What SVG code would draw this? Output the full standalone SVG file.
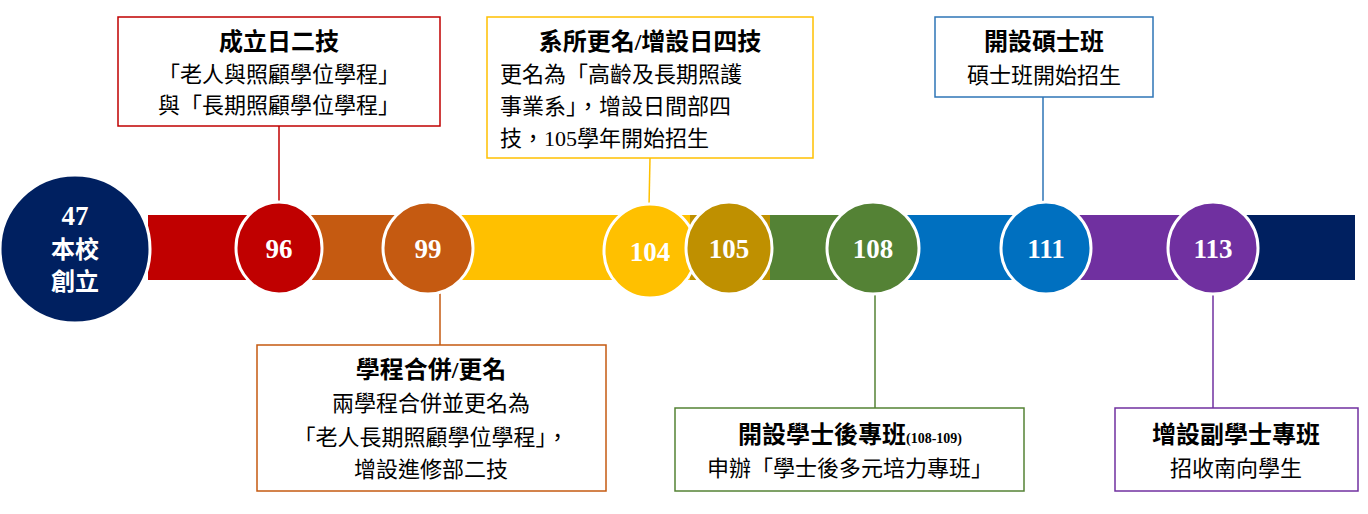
<svg xmlns="http://www.w3.org/2000/svg" width="1368" height="514" viewBox="0 0 1368 514">
<style>
text{font-family:"Liberation Serif","Noto Sans CJK TC",serif;fill:#000}
.t{font-size:24px;font-weight:bold;text-anchor:middle}
.b{font-size:22px;text-anchor:middle}
.l{font-size:22px}
.n{font-size:27px;font-weight:bold;fill:#fff;text-anchor:middle}
.c{stroke:#fff;stroke-width:3}
.box{fill:#fff;stroke-width:1.5}
</style>
<g id="band">
<rect x="148" y="215" width="112" height="65" fill="#C00000"/>
<rect x="260" y="215" width="160" height="65" fill="#C55A11"/>
<rect x="420" y="215" width="270" height="65" fill="#FFC000"/>
<rect x="690" y="215" width="80" height="65" fill="#BF9000"/>
<rect x="770" y="215" width="130" height="65" fill="#548235"/>
<rect x="900" y="215" width="140" height="65" fill="#0070C0"/>
<rect x="1040" y="215" width="160" height="65" fill="#7030A0"/>
<rect x="1200" y="215" width="155" height="65" fill="#002060"/>
</g>
<g id="connectors" stroke-width="1.5">
<line x1="279" y1="126" x2="279" y2="205" stroke="#C00000"/>
<line x1="440" y1="292" x2="440" y2="345" stroke="#C55A11"/>
<line x1="650" y1="158" x2="649" y2="206" stroke="#FFC000"/>
<line x1="875" y1="292" x2="875" y2="408" stroke="#548235"/>
<line x1="1043" y1="97" x2="1043" y2="204" stroke="#2E75B6"/>
<line x1="1213" y1="292" x2="1213" y2="408" stroke="#7030A0"/>
</g>
<g id="n47"><ellipse cx="75" cy="249" rx="75" ry="74" fill="#002060" class="c"/>
<text class="n" x="75" y="225" font-size="24">47</text><text class="n" x="75" y="258" style="font-size:24px">本校</text><text class="n" x="75" y="290" style="font-size:24px">創立</text></g>
<g id="n96"><ellipse cx="279" cy="248" rx="43" ry="46" fill="#C00000" class="c"/><text class="n" x="279" y="258">96</text></g>
<g id="n99"><ellipse cx="428" cy="248" rx="45" ry="46" fill="#C55A11" class="c"/><text class="n" x="428" y="258">99</text></g>
<g id="n104"><ellipse cx="650" cy="251" rx="46" ry="47" fill="#FFC000" class="c"/><text class="n" x="650" y="261">104</text></g>
<g id="n105"><ellipse cx="729" cy="248" rx="43" ry="46" fill="#BF9000" class="c"/><text class="n" x="729" y="258">105</text></g>
<g id="n108"><ellipse cx="873" cy="248" rx="46" ry="46" fill="#548235" class="c"/><text class="n" x="873" y="258">108</text></g>
<g id="n111"><ellipse cx="1046" cy="248" rx="45" ry="46" fill="#0070C0" class="c"/><text class="n" x="1046" y="258">111</text></g>
<g id="n113"><ellipse cx="1213" cy="248" rx="45" ry="46" fill="#7030A0" class="c"/><text class="n" x="1213" y="258">113</text></g>
<g id="box96"><rect x="118" y="17" width="322" height="109" class="box" stroke="#C00000"/>
<text class="t" x="279" y="50">成立日二技</text><text class="b" x="279" y="82">「老人與照顧學位學程」</text><text class="b" x="279" y="113">與「長期照顧學位學程」</text></g>
<g id="box99"><rect x="257" y="345" width="349" height="146" class="box" stroke="#C55A11"/>
<text class="t" x="431" y="378">學程合併/更名</text><text class="b" x="431" y="411">兩學程合併並更名為</text><text class="b" x="431" y="445">「老人長期照顧學位學程」，</text><text class="b" x="431" y="477">增設進修部二技</text></g>
<g id="box104"><rect x="487" y="17" width="326" height="141" class="box" stroke="#FFC000"/>
<text class="t" x="650" y="50">系所更名/增設日四技</text><text class="l" x="500" y="82">更名為「高齡及長期照護</text><text class="l" x="500" y="114">事業系」，增設日間部四</text><text class="l" x="500" y="146">技，105學年開始招生</text></g>
<g id="box108"><rect x="675" y="408" width="349" height="83" class="box" stroke="#548235"/>
<text class="t" x="850" y="443">開設學士後專班<tspan font-size="14">(108-109)</tspan></text><text class="b" x="850" y="476">申辦「學士後多元培力專班」</text></g>
<g id="box111"><rect x="935" y="17" width="218" height="80" class="box" stroke="#2E75B6"/>
<text class="t" x="1044" y="50">開設碩士班</text><text class="b" x="1044" y="83">碩士班開始招生</text></g>
<g id="box113"><rect x="1115" y="408" width="243" height="83" class="box" stroke="#7030A0"/>
<text class="t" x="1236" y="443">增設副學士專班</text><text class="b" x="1236" y="476">招收南向學生</text></g>
</svg>
